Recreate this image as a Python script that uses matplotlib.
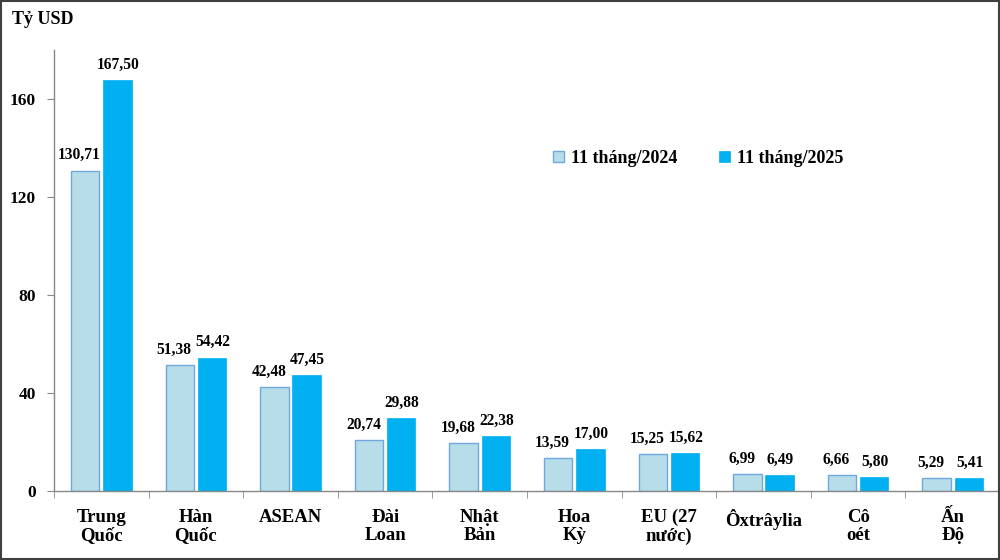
import matplotlib
matplotlib.use("Agg")
import matplotlib.pyplot as plt
import numpy as np

plt.rcParams["font.family"] = ["Liberation Serif", "DejaVu Serif"]
plt.rcParams["font.weight"] = "bold"

# ── 数据 ──
categories = ["Trung\nQuốc", "Hàn\nQuốc", "ASEAN", "Đài\nLoan", "Nhật\nBản",
              "Hoa\nKỳ", "EU (27\nnước)", "Ôxtrâylia", "Cô\noét", "Ấn\nĐộ"]
v2024 = [130.71, 51.38, 42.48, 20.74, 19.68, 13.59, 15.25, 6.99, 6.66, 5.29]
v2025 = [167.50, 54.42, 47.45, 29.88, 22.38, 17.00, 15.62, 6.49, 5.80, 5.41]
series_labels = ["11 tháng/2024", "11 tháng/2025"]
yticks = [0, 40, 80, 120, 160]

C_LIGHT = "#b7dde8"
C_EDGE = "#6fa8dc"
C_DARK = "#00b0f0"

fig = plt.figure(figsize=(10, 5.6), dpi=100)
fig.patches.append(plt.Rectangle((0.001, 0.001), 0.998, 0.997, transform=fig.transFigure,
                                 fill=False, edgecolor="#404040", linewidth=1.5))
ax = fig.add_axes([0.054, 0.123, 0.946, 0.788])

x = np.arange(len(categories))
w = 0.30
b1 = ax.bar(x - 0.17, v2024, w, color=C_LIGHT, edgecolor=C_EDGE, linewidth=1.0,
            label=series_labels[0])
b2 = ax.bar(x + 0.17, v2025, w, color=C_DARK, edgecolor=C_DARK, linewidth=0.5,
            label=series_labels[1])

fmt = lambda v: f"{v:.2f}".replace(".", ",")
# light labels sit a bit to the left, as in the source chart
for bars, vals, dx in ((b1, v2024, -0.06), (b2, v2025, 0.01)):
    for r, v in zip(bars, vals):
        ax.text(r.get_x() + r.get_width() / 2 + dx, v + 3, fmt(v), ha="center", va="bottom",
                fontsize=11.2, fontweight="bold")

ax.set_xlim(-0.5, len(categories) - 0.5)
ax.set_ylim(0, 180)
ax.set_yticks(yticks)
ax.set_yticklabels([str(t) for t in yticks], fontsize=12.5, fontweight="bold")
ax.set_xticks(x)
ax.set_xticklabels(categories, fontsize=13.5, fontweight="bold", linespacing=1.1)
ax.tick_params(axis="x", length=0, pad=13)
ax.set_xticks(np.arange(len(categories) + 1) - 0.5, minor=True)
ax.tick_params(axis="x", which="minor", length=5, color="#888888")
ax.tick_params(axis="y", length=5, color="#888888", pad=8)

for s in ("top", "right"):
    ax.spines[s].set_visible(False)
for s in ("left", "bottom"):
    ax.spines[s].set_color("#888888")
    ax.spines[s].set_linewidth(1.0)

ax.legend(loc="upper left", bbox_to_anchor=(0.51, 0.81), ncol=2, frameon=False,
          handlelength=0.6, handleheight=0.6, columnspacing=2.3,
          handletextpad=0.4, prop={"weight": "bold", "size": 13})

fig.text(0.012, 0.965, "Tỷ USD", fontsize=13, fontweight="bold", ha="left", va="center")

fig.savefig("out.png", dpi=100)
